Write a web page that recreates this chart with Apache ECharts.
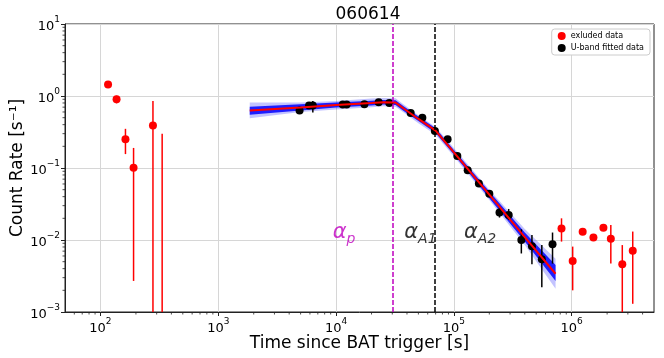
<!DOCTYPE html>
<html>
<head>
<meta charset="utf-8">
<script src="https://cdn.jsdelivr.net/npm/echarts@6/dist/echarts.min.js"></script>
<style>
  html, body { margin: 0; padding: 0; background: #fff; }
  #chart { width: 664px; height: 358px; }
</style>
</head>
<body>
<div id="chart"></div>
<script>
// excluded data (red); null = no marker, bar only
const redX  = [116, 137, 163, 191, 279, 334, 8.2e5, 1.02e6, 1.24e6, 1.53e6, 1.86e6, 2.15e6, 2.69e6, 3.3e6]
const redY  = [1.44, 0.90, 0.25, 0.101, 0.39, null, 0.0145, 0.0051, 0.013, 0.0108, 0.0148, 0.0104, 0.0046, 0.0071]
const redLo = [1.36, 0.79, 0.156, 0.0027, 0.0001, 0.0001, 0.0095, 0.0020, 0.0119, 0.0099, 0.0136, 0.0047, 0.0001, 0.0013]
const redHi = [1.53, 1.01, 0.35, 0.19, 0.85, 0.30, 0.020, 0.0081, 0.0142, 0.0117, 0.0161, 0.0162, 0.0085, 0.0131]

// U-band fitted data (black)
const blkX  = [4.9e3, 5.9e3, 6.35e3, 1.14e4, 1.23e4, 1.74e4, 2.3e4, 2.83e4, 4.3e4, 5.4e4, 6.9e4,
               8.85e4, 1.07e5, 1.31e5, 1.63e5, 2.0e5, 2.44e5, 2.92e5, 3.74e5, 4.6e5, 5.58e5, 6.88e5]
const blkY  = [0.63, 0.74, 0.74, 0.76, 0.76, 0.77, 0.82, 0.80, 0.58, 0.50, 0.326,
               0.25, 0.147, 0.093, 0.061, 0.044, 0.024, 0.0223, 0.010, 0.0082, 0.0054, 0.0087]
const blkLo = [0.60, 0.70, 0.59, 0.73, 0.73, 0.74, 0.79, 0.77, 0.56, 0.48, 0.31,
               0.235, 0.139, 0.087, 0.057, 0.041, 0.0205, 0.019, 0.0065, 0.0046, 0.0022, 0.0047]
const blkHi = [0.66, 0.78, 0.85, 0.79, 0.79, 0.80, 0.85, 0.83, 0.60, 0.52, 0.34,
               0.265, 0.155, 0.099, 0.065, 0.047, 0.0285, 0.027, 0.0141, 0.0117, 0.0085, 0.0127]

// fitted model and its spread
const modelX  = [1850, 5000, 1e4, 2e4, 2.5e4, 3.2e4, 3.8e4, 5e4, 7e4, 1e5, 2e5, 4e5, 7.3e5]
const modelY  = [0.63, 0.69, 0.75, 0.80, 0.82, 0.81, 0.66, 0.48, 0.33, 0.165, 0.0426, 0.011, 0.0034]
const outerHi = [0.81, 0.81, 0.85, 0.92, 0.94, 0.93, 0.75, 0.54, 0.37, 0.189, 0.050, 0.0142, 0.0055]
const outerLo = [0.49, 0.60, 0.65, 0.70, 0.72, 0.71, 0.58, 0.42, 0.29, 0.145, 0.036, 0.0085, 0.0021]
const innerHi = [0.71, 0.77, 0.81, 0.86, 0.88, 0.87, 0.71, 0.52, 0.357, 0.178, 0.047, 0.0127, 0.0045]
const innerLo = [0.55, 0.63, 0.69, 0.74, 0.76, 0.75, 0.61, 0.45, 0.306, 0.154, 0.038, 0.0095, 0.0027]

// break times
const breakP = 3.0e4
const breakA = 6.9e4

// slope labels
const alphaSub = ['p', 'A1', 'A2']
const alphaX = [1.17e4, 5.2e4, 1.67e5]
const alphaY = [0.0125, 0.0125, 0.0125]
const alphaColor = ['#bf00bf', '#000', '#000']

const xMin = 50, xMax = 5e6
const yMin = 1e-3, yMax = 10
const xTicks = [1e2, 1e3, 1e4, 1e5, 1e6]
const yTicks = [1e-3, 1e-2, 1e-1, 1e0, 1e1]

// minor ticks 2..9 x 10^n
const minorTicks = (lo, hi, min, max) => {
  const out = []
  for (let n = lo; n <= hi; n++) {
    for (let k = 2; k <= 9; k++) {
      const v = k * Math.pow(10, n)
      if (v > min && v < max) out.push(v)
    }
  }
  return out
}
const xMinor = minorTicks(1, 6, xMin, xMax)
const yMinor = minorTicks(-3, 0, yMin, yMax)

const powLabel = v => {
  const e = Math.round(Math.log10(v))
  if (Math.abs(Math.log10(v) - e) > 1e-6) return ''
  return '{b|10}{e|' + (e < 0 ? '−' + (-e) : e) + '}'
}

const font = 'DejaVu Sans'

const tickRich = {
  b: { fontSize: 13, fontFamily: font, color: '#000', verticalAlign: 'bottom', lineHeight: 18 },
  e: { fontSize: 9, fontFamily: font, color: '#000', verticalAlign: 'top', lineHeight: 18 }
}

const errorBars = (color, xs, lo, hi) => ({
  type: 'custom',
  clip: true,
  silent: true,
  data: xs.map((x, i) => [x, lo[i], hi[i]]),
  encode: { x: 0, y: [1, 2] },
  renderItem: (params, api) => {
    const a = api.coord([api.value(0), api.value(1)])
    const b = api.coord([api.value(0), api.value(2)])
    return {
      type: 'line',
      shape: { x1: a[0], y1: a[1], x2: b[0], y2: b[1] },
      style: { stroke: color, lineWidth: 1.5 }
    }
  }
})

const band = (hi, lo, fill) => ({
  type: 'custom',
  clip: true,
  silent: true,
  data: [[modelX[0], modelY[0]]],
  renderItem: (params, api) => {
    const top = modelX.map((x, i) => api.coord([x, hi[i]]))
    const bot = modelX.map((x, i) => api.coord([x, lo[i]])).reverse()
    return { type: 'polygon', shape: { points: top.concat(bot) }, style: { fill: fill } }
  }
})

// short outward minor ticks on the bottom / left spines
const minorTickSeries = (data, horizontal) => ({
  type: 'custom',
  clip: false,
  silent: true,
  z: 5,
  data: data,
  renderItem: (params, api) => {
    const p = api.coord([api.value(0), api.value(1)])
    const shape = horizontal
      ? { x1: p[0], y1: p[1], x2: p[0], y2: p[1] + 2.5 }
      : { x1: p[0], y1: p[1], x2: p[0] - 2.5, y2: p[1] }
    return { type: 'line', shape: shape, style: { stroke: '#222', lineWidth: 0.8 } }
  }
})

const chart = echarts.init(document.getElementById('chart'))

chart.setOption({
  animation: false,
  textStyle: { fontFamily: font },
  title: {
    text: '060614',
    left: 363,
    textAlign: 'center',
    top: 1,
    textStyle: { fontSize: 17, fontWeight: 'normal', color: '#000', fontFamily: font }
  },
  grid: {
    left: 65, right: 10, top: 24, bottom: 46,
    outerBoundsMode: 'none',
    containLabel: false,
    show: true, borderColor: '#222', borderWidth: 1, backgroundColor: '#fff'
  },
  legend: {
    data: ['exluded data', 'U-band fitted data'],
    orient: 'vertical',
    right: 14,
    top: 29,
    icon: 'circle',
    itemWidth: 8,
    itemHeight: 8,
    itemGap: 4,
    padding: [3, 6, 3, 6],
    borderColor: '#ccc',
    borderWidth: 1,
    borderRadius: 3,
    backgroundColor: '#fff',
    textStyle: { fontSize: 8, color: '#000', fontFamily: font }
  },
  xAxis: {
    type: 'log',
    logBase: 10,
    min: xMin,
    max: xMax,
    name: 'Time since BAT trigger [s]',
    nameLocation: 'middle',
    nameGap: 23,
    nameMoveOverlap: false,
    nameTextStyle: { fontSize: 17, color: '#000', fontFamily: font },
    axisLine: { show: true, lineStyle: { color: '#222', width: 1 } },
    axisTick: { show: true, customValues: xTicks, length: 4, lineStyle: { color: '#222' } },
    axisLabel: { customValues: xTicks, formatter: powLabel, rich: tickRich, margin: 5 },
    splitLine: { show: true, lineStyle: { color: '#d6d6d6', width: 1 } }
  },
  yAxis: {
    type: 'log',
    logBase: 10,
    min: yMin,
    max: yMax,
    name: 'Count Rate [s⁻¹]',
    nameLocation: 'middle',
    nameGap: 39,
    nameMoveOverlap: false,
    nameTextStyle: { fontSize: 17, color: '#000', fontFamily: font },
    axisLine: { show: true, lineStyle: { color: '#222', width: 1 } },
    axisTick: { show: true, customValues: yTicks, length: 4, lineStyle: { color: '#222' } },
    axisLabel: { customValues: yTicks, formatter: powLabel, rich: tickRich, margin: 5 },
    splitLine: { show: true, lineStyle: { color: '#d6d6d6', width: 1 } }
  },
  series: [
    band(outerHi, outerLo, 'rgba(40,40,255,0.28)'),
    band(innerHi, innerLo, 'rgba(0,0,255,0.85)'),
    {
      type: 'line',
      data: modelX.map((x, i) => [x, modelY[i]]),
      showSymbol: false,
      silent: true,
      lineStyle: { color: '#ff0000', width: 2 },
      markLine: {
        symbol: 'none',
        silent: true,
        label: { show: false },
        data: [
          { xAxis: breakP, lineStyle: { color: '#bf00bf', type: [5, 2], width: 1.5 } },
          { xAxis: breakA, lineStyle: { color: '#000', type: [5, 2], width: 1.5 } }
        ]
      }
    },
    errorBars('#ff0000', redX, redLo, redHi),
    errorBars('#000', blkX, blkLo, blkHi),
    {
      name: 'exluded data',
      type: 'scatter',
      symbol: 'circle',
      symbolSize: 8,
      itemStyle: { color: '#ff0000', opacity: 1 },
      data: redX.map((x, i) => [x, redY[i]]).filter(d => d[1] !== null)
    },
    {
      name: 'U-band fitted data',
      type: 'scatter',
      symbol: 'circle',
      symbolSize: 8,
      itemStyle: { color: '#000', opacity: 1 },
      data: blkX.map((x, i) => [x, blkY[i]])
    },
    {
      type: 'scatter',
      silent: true,
      symbolSize: 1,
      itemStyle: { color: 'rgba(0,0,0,0)' },
      data: alphaX.map((x, i) => ({
        value: [x, alphaY[i]],
        label: {
          show: true,
          position: 'inside',
          formatter: '{a|α}{s|' + alphaSub[i] + '}',
          rich: {
            a: { fontSize: 21, fontStyle: 'italic', color: alphaColor[i], fontFamily: font, verticalAlign: 'middle', lineHeight: 26 },
            s: { fontSize: 14, fontStyle: 'italic', color: alphaColor[i], fontFamily: font, verticalAlign: 'bottom', lineHeight: 26, padding: [8, 0, 0, 0] }
          }
        }
      }))
    },
    minorTickSeries(xMinor.map(v => [v, yMin]), true),
    minorTickSeries(yMinor.map(v => [xMin, v]), false)
  ]
})
</script>
</body>
</html>
